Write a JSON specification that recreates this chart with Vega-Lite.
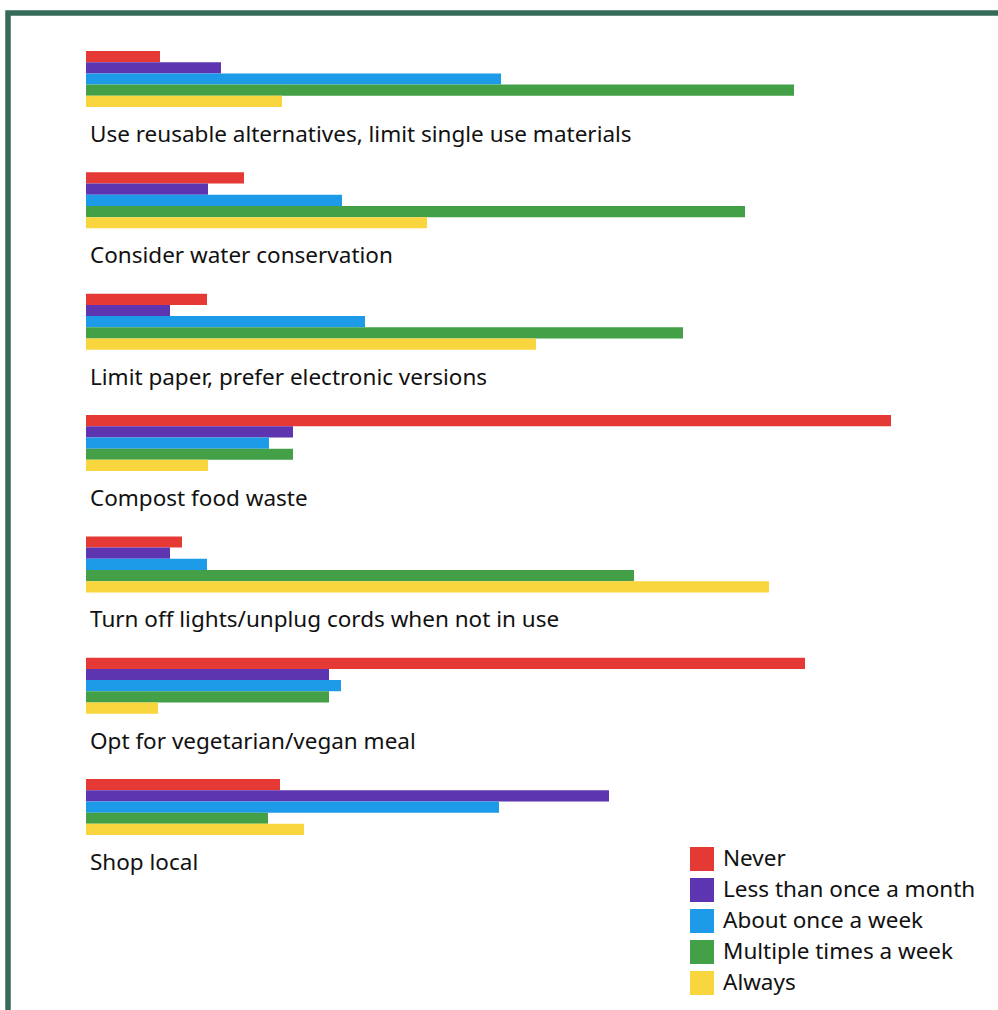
{
  "$schema": "https://vega.github.io/schema/vega-lite/v6.json",
  "width": 998,
  "height": 1010,
  "autosize": {"type": "fit", "contains": "padding"},
  "padding": {"left": 8, "top": 13, "right": -12, "bottom": -12},
  "background": "white",
  "config": {
    "view": {"stroke": "#366b59", "strokeWidth": 5.5},
    "font": "Noto Sans"
  },
  "datasets": {
    "bars": [
      {"practice": "Use reusable alternatives, limit single use materials", "frequency": "Never", "value": 74},
      {"practice": "Use reusable alternatives, limit single use materials", "frequency": "Less than once a month", "value": 135},
      {"practice": "Use reusable alternatives, limit single use materials", "frequency": "About once a week", "value": 415},
      {"practice": "Use reusable alternatives, limit single use materials", "frequency": "Multiple times a week", "value": 708},
      {"practice": "Use reusable alternatives, limit single use materials", "frequency": "Always", "value": 196},
      {"practice": "Consider water conservation", "frequency": "Never", "value": 158},
      {"practice": "Consider water conservation", "frequency": "Less than once a month", "value": 122},
      {"practice": "Consider water conservation", "frequency": "About once a week", "value": 256},
      {"practice": "Consider water conservation", "frequency": "Multiple times a week", "value": 659},
      {"practice": "Consider water conservation", "frequency": "Always", "value": 341},
      {"practice": "Limit paper, prefer electronic versions", "frequency": "Never", "value": 121},
      {"practice": "Limit paper, prefer electronic versions", "frequency": "Less than once a month", "value": 84},
      {"practice": "Limit paper, prefer electronic versions", "frequency": "About once a week", "value": 279},
      {"practice": "Limit paper, prefer electronic versions", "frequency": "Multiple times a week", "value": 597},
      {"practice": "Limit paper, prefer electronic versions", "frequency": "Always", "value": 450},
      {"practice": "Compost food waste", "frequency": "Never", "value": 805},
      {"practice": "Compost food waste", "frequency": "Less than once a month", "value": 207},
      {"practice": "Compost food waste", "frequency": "About once a week", "value": 183},
      {"practice": "Compost food waste", "frequency": "Multiple times a week", "value": 207},
      {"practice": "Compost food waste", "frequency": "Always", "value": 122},
      {"practice": "Turn off lights/unplug cords when not in use", "frequency": "Never", "value": 96},
      {"practice": "Turn off lights/unplug cords when not in use", "frequency": "Less than once a month", "value": 84},
      {"practice": "Turn off lights/unplug cords when not in use", "frequency": "About once a week", "value": 121},
      {"practice": "Turn off lights/unplug cords when not in use", "frequency": "Multiple times a week", "value": 548},
      {"practice": "Turn off lights/unplug cords when not in use", "frequency": "Always", "value": 683},
      {"practice": "Opt for vegetarian/vegan meal", "frequency": "Never", "value": 719},
      {"practice": "Opt for vegetarian/vegan meal", "frequency": "Less than once a month", "value": 243},
      {"practice": "Opt for vegetarian/vegan meal", "frequency": "About once a week", "value": 255},
      {"practice": "Opt for vegetarian/vegan meal", "frequency": "Multiple times a week", "value": 243},
      {"practice": "Opt for vegetarian/vegan meal", "frequency": "Always", "value": 72},
      {"practice": "Shop local", "frequency": "Never", "value": 194},
      {"practice": "Shop local", "frequency": "Less than once a month", "value": 523},
      {"practice": "Shop local", "frequency": "About once a week", "value": 413},
      {"practice": "Shop local", "frequency": "Multiple times a week", "value": 182},
      {"practice": "Shop local", "frequency": "Always", "value": 218}
    ],
    "labels": [
      {"practice": "Use reusable alternatives, limit single use materials"},
      {"practice": "Consider water conservation"},
      {"practice": "Limit paper, prefer electronic versions"},
      {"practice": "Compost food waste"},
      {"practice": "Turn off lights/unplug cords when not in use"},
      {"practice": "Opt for vegetarian/vegan meal"},
      {"practice": "Shop local"}
    ]
  },
  "layer": [
    {
      "data": {"name": "bars"},
      "mark": {"type": "bar", "cornerRadius": 0},
      "encoding": {
        "y": {
          "field": "practice", "type": "nominal", "sort": null, "axis": null,
          "scale": {"paddingInner": 0.5385, "paddingOuter": 0.927, "align": 0.169, "round": false}
        },
        "yOffset": {
          "field": "frequency", "type": "nominal",
          "sort": ["Never", "Less than once a month", "About once a week", "Multiple times a week", "Always"],
          "scale": {"paddingInner": 0, "paddingOuter": 0}
        },
        "x": {
          "field": "value", "type": "quantitative", "axis": null,
          "scale": {"domain": [-78, 924], "zero": false, "nice": false}
        },
        "color": {
          "field": "frequency", "type": "nominal",
          "sort": ["Never", "Less than once a month", "About once a week", "Multiple times a week", "Always"],
          "scale": {
            "domain": ["Never", "Less than once a month", "About once a week", "Multiple times a week", "Always"],
            "range": ["#e53935", "#5e35b1", "#1e9be8", "#43a047", "#f9d63e"]
          },
          "legend": {
            "title": null,
            "orient": "none",
            "legendX": 682,
            "legendY": 834,
            "padding": 0,
            "symbolType": "square",
            "symbolSize": 576,
            "symbolStrokeWidth": 0,
            "symbolOpacity": 1,
            "labelFontSize": 22.5,
            "labelFont": "Noto Sans",
            "labelColor": "#111111",
            "labelOffset": 9,
            "rowPadding": 7,
            "labelLimit": 400
          }
        }
      }
    },
    {
      "data": {"name": "labels"},
      "mark": {"type": "text", "align": "left", "baseline": "middle", "dx": 4, "dy": 56, "fontSize": 22.5, "font": "Noto Sans", "color": "#111111"},
      "encoding": {
        "y": {"field": "practice", "type": "nominal", "sort": null},
        "x": {"datum": 0, "type": "quantitative"},
        "text": {"field": "practice"}
      }
    }
  ]
}
